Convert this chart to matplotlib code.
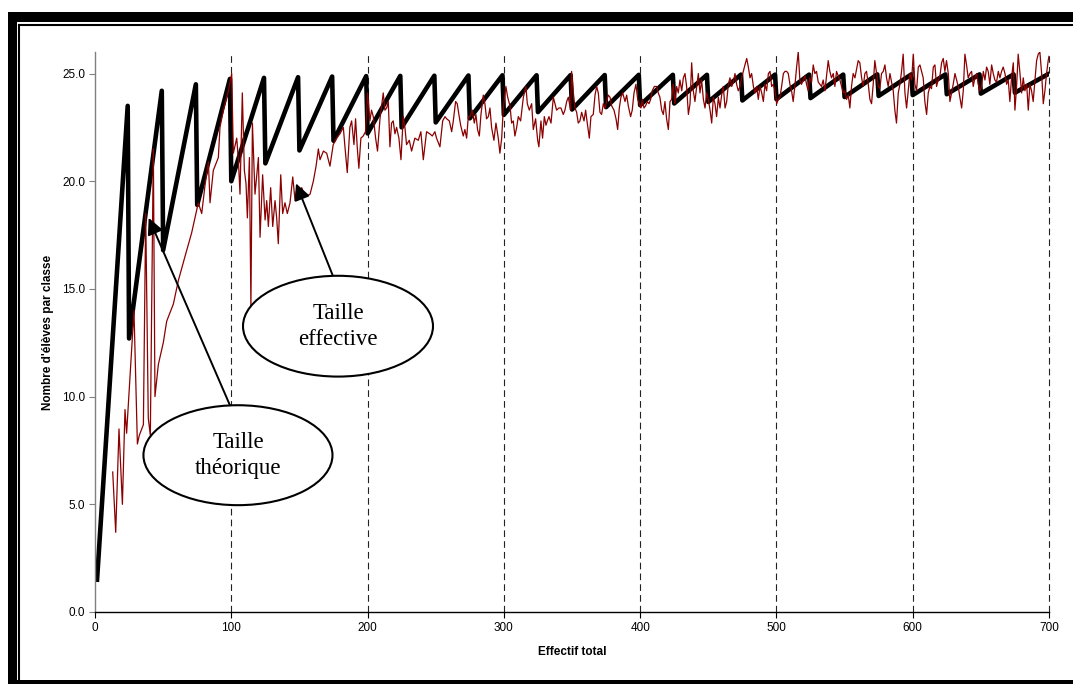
import matplotlib
matplotlib.use("Agg")
from matplotlib import pyplot as plt
from matplotlib.patches import Ellipse, Rectangle
from matplotlib.lines import Line2D

plt.rcParams['font.family'] = ['Liberation Sans', 'DejaVu Sans']

# ---- taille theorique : sommets de la courbe en dents de scie ----
start_x, start_y = 1.5, 1.5
peak_x = [24, 49, 74, 99, 124, 149, 174, 199, 224, 249, 274, 299, 324, 349,
          374, 399, 424, 449, 474, 499, 524, 549, 574, 599, 624, 649, 674, 699]
peak_y = [23.5, 24.2, 24.5, 24.75, 24.8, 24.83, 24.86, 24.88, 24.89, 24.9, 24.91, 24.92, 24.92, 24.93,
          24.93, 24.94, 24.94, 24.94, 24.95, 24.95, 24.95, 24.95, 24.96, 24.96, 24.96, 24.96, 24.96, 24.96]
trough_x = [25, 50, 75, 100, 125, 150, 175, 200, 225, 250, 275, 300, 325, 350,
            375, 400, 425, 450, 475, 500, 525, 550, 575, 600, 625, 650, 675]
trough_y = [12.7, 16.8, 18.9, 20.0, 20.83, 21.43, 21.88, 22.22, 22.5, 22.73, 22.92, 23.08, 23.21, 23.33,
            23.44, 23.53, 23.61, 23.68, 23.75, 23.81, 23.86, 23.91, 23.96, 24.0, 24.04, 24.07, 24.11]

# ---- taille effective ----
eff_x = [13.0, 15.2, 17.6, 20.1, 22.0, 23.2, 28.6, 31.1, 32.5, 35.5,
         37.2, 39.1, 40.6, 42.8, 44.0, 46.5, 50.1, 52.6, 57.5, 61.2,
         66.0, 70.9, 75.8, 78.3, 80.7, 83.2, 84.4,
         86.8, 90.5, 91.7, 94.2, 97.9, 100.3, 101.5, 104.0, 105.2, 106.4,
         108.1, 109.6, 110.8, 111.8, 113.3, 114.4, 115.5, 117.4, 119.9, 121.1,
         123.0, 124.8, 126.0, 127.2, 128.9, 130.4, 132.1, 133.3, 134.5, 136.3,
         137.7, 139.4, 141.1, 143.1, 145.1, 146.8, 148.0, 149.9, 151.7, 153.4,
         155.3, 157.8, 160.2, 162.2, 163.9, 165.1, 167.6, 170.0,
         172.4, 174.8, 177.3, 179.7, 182.2, 183.4, 185.1, 187.0, 188.3, 190.0,
         191.2, 192.4, 193.6, 195.1, 196.8, 198.5, 200.0, 201.7, 202.9, 204.2,
         205.9, 207.3, 209.1, 211.5, 212.7, 214.0, 215.2, 216.4, 217.6, 218.8,
         220.1, 221.3, 223.0, 224.5, 226.2, 227.4, 228.6, 230.6, 232.3, 234.7,
         237.2, 239.1, 240.9, 243.3, 245.7, 247.5, 249.4, 250.6,
         253.1, 255.1, 256.8, 258.0, 260.0, 261.7, 262.9, 264.6, 265.8, 267.0,
         268.3, 270.2, 271.4, 272.7, 273.9, 275.1, 276.8, 278.3, 279.5, 280.7,
         282.0, 283.2, 284.9, 286.1, 287.3, 288.6, 289.8, 291.0, 292.7, 294.2,
         295.9, 297.1, 298.4, 299.6, 301.5, 302.8, 304.5, 305.7, 306.9, 308.1,
         309.4, 310.6, 312.3, 314.3, 316.2, 317.2, 318.7, 320.4, 321.6, 323.3,
         324.8, 325.7, 327.2, 328.4, 329.7, 330.9, 331.9, 333.1, 334.6, 336.3,
         337.5, 338.7, 340.4,
         341.9, 343.6, 344.8, 346.1, 347.3, 349.0, 349.7, 351.0, 352.2, 353.4,
         354.6, 355.8, 357.1, 358.8, 360.0, 361.2, 362.7, 363.9, 365.6, 366.9,
         368.1, 369.3, 370.5, 371.7, 373.0, 374.2, 375.4, 376.6, 377.9, 379.1,
         380.8, 382.3, 383.5, 384.7, 385.9, 387.2, 388.9, 390.1, 391.3, 393.0,
         394.2, 395.5, 396.9, 398.2, 399.4, 400.6, 401.6, 402.8, 404.0, 405.3,
         406.5, 407.7, 408.9, 410.4, 412.1, 413.3, 414.5, 415.8, 417.0, 418.2,
         419.4, 420.7, 421.9,
         423.1, 424.3, 425.6, 426.8, 428.0, 429.2, 430.5, 431.7, 432.9, 434.1,
         435.4, 436.6, 437.8, 439.0, 440.2, 441.5, 442.7, 443.9, 445.1, 446.4,
         447.6, 448.8, 450.0, 451.3, 452.5, 453.7, 454.9, 456.1, 457.4, 458.6,
         459.8, 461.0, 462.3, 463.5, 464.7, 465.9, 467.2, 468.4, 469.6, 470.8,
         472.0, 473.3, 474.5, 475.7, 476.9, 478.2, 479.4, 480.6, 481.8, 483.1,
         484.3, 485.5, 486.7, 487.9, 489.2, 490.4, 491.6, 492.8, 494.1, 495.3,
         496.5, 497.7, 499.0, 500.2, 501.4, 502.6, 503.8, 505.1, 506.3, 507.5,
         508.7,
         509.9, 511.1, 512.3, 513.5, 514.8, 516.0, 517.2, 518.4, 519.7, 520.9,
         522.1, 523.3, 524.5, 525.8, 527.0, 528.2, 529.4, 530.7, 531.9, 533.1,
         534.3, 535.6, 536.8, 538.0, 539.2, 540.4, 541.7, 542.9, 544.1, 545.3,
         546.6, 547.8, 549.0, 550.2, 551.5, 552.7, 553.9, 555.1, 556.3, 557.6,
         558.8, 560.0, 561.2, 562.5, 563.7, 564.9, 566.1, 567.4, 568.6, 569.8,
         571.0, 572.2, 573.5, 574.7, 575.9, 577.1, 578.4, 579.6, 580.8, 582.0,
         583.3, 584.5, 585.7, 586.9, 588.1, 589.4, 590.6, 591.8, 593.0,
         594.3, 595.5, 596.7, 597.9, 599.2, 600.4, 601.6, 602.8, 604.1, 605.3,
         606.5, 607.7, 608.9, 610.2, 611.4, 612.6, 613.8, 615.1, 616.3, 617.5,
         618.7, 620.0, 621.2, 622.4, 623.6, 624.8, 626.1, 627.3, 628.5, 629.7,
         631.0, 632.2, 633.4, 634.6, 635.9, 637.1, 638.3, 639.5, 640.7, 642.0,
         643.2, 644.4, 645.6, 646.9, 648.1, 649.3, 650.5, 651.8, 653.0, 654.2,
         655.4, 656.6, 657.9, 659.1, 660.3, 661.5, 662.8, 664.0, 665.2, 666.4,
         667.7, 668.9, 670.1, 671.3, 672.5, 673.8, 675.0, 676.2, 677.4, 678.7,
         679.9, 681.1, 682.3, 683.6, 684.8, 686.0, 687.2, 688.4, 689.7, 690.9,
         692.1, 693.3, 694.6, 695.8, 697.0, 698.2, 699.4, 700.0]
eff_y = [6.5, 3.7, 8.5, 5.0, 9.4, 8.3, 14.0, 7.8, 8.2, 8.7,
         18.5, 9.0, 8.2, 21.5, 10.0, 11.5, 12.5, 13.5, 14.3, 15.4,
         16.5, 17.6, 19.0, 18.5, 19.8, 20.9, 19.0,
         20.5, 21.1, 22.5, 23.3, 24.2, 25.0, 21.3, 22.0, 21.0, 19.4,
         24.1, 20.5, 19.9, 18.3, 21.1, 14.2, 22.7, 19.4, 21.1, 17.4,
         20.3, 18.2, 19.1, 17.9, 19.7, 17.9, 19.1, 18.3, 17.1, 20.3,
         18.5, 19.0, 18.5, 19.0, 20.2, 19.1, 19.6, 19.3, 19.7, 19.4,
         19.3, 19.4, 20.0, 20.7, 21.5, 21.0, 21.4, 21.3,
         20.7, 21.7, 22.0, 22.2, 22.5, 21.6, 20.4, 22.5, 22.8, 21.7,
         22.9, 21.6, 20.6, 22.0, 22.1, 22.3, 24.1, 22.8, 23.3, 23.0,
         22.0, 21.4, 22.9, 24.1, 23.3, 23.4, 23.7, 21.6, 22.7, 22.8,
         22.2, 22.5, 22.0, 21.0, 23.0, 22.5, 21.7, 21.9, 21.4, 22.0,
         21.9, 22.3, 21.0, 22.3, 22.2, 22.1, 22.3, 22.0,
         21.6, 22.8, 23.0, 22.9, 22.8, 22.3, 22.8, 23.7, 23.6, 23.1,
         22.6, 22.1, 22.4, 22.0, 23.0, 23.0, 23.3, 22.7, 23.1, 22.4,
         22.1, 23.1, 24.0, 23.6, 22.9, 23.0, 23.4, 22.5, 21.9, 22.7,
         22.0, 21.3, 22.0, 23.4, 24.4, 23.9, 23.5, 22.7, 22.8, 22.1,
         22.5, 23.0, 22.8, 23.9, 24.4, 23.6, 23.3, 23.6, 22.4, 22.9,
         21.9, 21.6, 22.8, 22.0, 23.0, 22.6, 22.8, 23.0, 22.7, 23.9,
         23.6, 23.3, 23.4,
         23.4, 23.1, 23.3, 23.7, 23.9, 23.3, 25.1, 24.1, 23.4, 23.2,
         22.7, 22.8, 23.2, 22.8, 23.3, 22.7, 22.0, 23.0, 23.1, 24.0,
         24.4, 24.1, 23.2, 23.1, 23.6, 23.4, 23.7, 24.0, 23.9, 23.5,
         23.3, 22.9, 22.4, 23.4, 23.9, 24.1, 23.7, 24.0, 23.5, 23.0,
         23.3, 24.1, 24.5, 23.8, 23.6, 23.4, 23.8, 23.4, 23.5, 23.7,
         23.6, 23.8, 24.2, 24.4, 24.4, 24.1, 23.9, 23.3, 23.1, 23.7,
         22.9, 22.4, 23.7,
         23.8, 24.5, 23.6, 24.4, 24.1, 24.7, 24.2, 24.8, 25.0, 24.4,
         23.1, 23.6, 25.5, 24.2, 23.7, 24.4, 25.0, 24.1, 24.7, 23.8,
         23.4, 24.1, 23.8, 23.3, 22.7, 23.9, 23.6, 23.0, 23.9, 23.4,
         24.0, 24.4, 23.4, 23.7, 24.5, 24.8, 24.4, 24.6, 25.0, 24.5,
         24.2, 24.4, 24.8, 25.1, 25.4, 25.7, 25.3, 24.8, 25.0, 24.4,
         24.1, 24.4, 23.8, 24.4, 24.1, 23.7, 24.5, 24.2, 25.0, 25.1,
         24.4, 24.5, 24.2, 23.6, 23.8, 23.9, 24.4, 25.0, 25.1, 25.1,
         25.0,
         24.5, 24.2, 23.7, 24.4, 25.3, 26.0, 24.7, 24.5, 24.7, 24.9,
         24.5, 24.2, 24.8, 24.6, 25.4, 25.0, 25.1, 24.6, 24.5, 24.4,
         24.7, 24.2, 24.9, 25.6, 25.1, 24.8, 25.0, 24.4, 25.1, 24.9,
         24.7, 24.4, 24.1, 24.2, 23.8, 24.0, 23.4, 24.4, 25.0, 24.8,
         25.2, 25.6, 25.5, 24.8, 24.4, 25.0, 25.1, 24.5, 23.8, 23.6,
         24.5, 25.6, 25.0, 24.4, 24.3, 25.0, 25.1, 25.4, 24.8, 24.4,
         25.0, 24.6, 24.2, 23.3, 22.7, 24.1, 24.5, 25.1, 25.9,
         24.1, 23.4, 24.2, 25.0, 24.7, 25.9, 24.5, 24.2, 25.3, 25.4,
         25.1, 24.8, 23.7, 23.1, 24.1, 24.4, 24.3, 25.3, 25.4, 24.4,
         24.7, 24.9, 25.5, 25.7, 25.1, 25.6, 25.0, 23.7, 24.1, 24.5,
         25.0, 24.7, 24.4, 23.9, 23.4, 24.2, 25.9, 25.4, 24.8, 25.0,
         25.1, 24.4, 24.8, 25.0, 24.5, 24.2, 24.4, 25.1, 24.7, 25.3,
         25.1, 24.5, 25.4, 25.0, 24.7, 24.6, 25.1, 24.8, 25.1, 25.3,
         25.0, 24.5, 24.7, 23.7, 24.8, 25.5, 23.3, 24.4, 25.9, 25.0,
         24.1, 24.8, 24.2, 24.5, 23.3, 24.5, 24.2, 23.7, 24.7, 25.6,
         25.9, 26.0, 25.0, 23.6, 24.2, 25.0, 25.6, 25.8]

x_ticks = [0, 100, 200, 300, 400, 500, 600, 700]
y_ticks = [0, 5, 10, 15, 20, 25]

# build the sawtooth vertex sequence
theo_x = [start_x]
theo_y = [start_y]
for i in range(len(peak_x)):
    theo_x.append(peak_x[i])
    theo_y.append(peak_y[i])
    if i < len(trough_x):
        theo_x.append(trough_x[i])
        theo_y.append(trough_y[i])

W, H = 1073, 684
fig = plt.figure(figsize=(W / 100, H / 100), dpi=100)
ax = fig.add_axes([95 / W, 1 - 612 / H, (1049 - 95) / W, (612 - 52) / H])

# dashed vertical grid
for xv in x_ticks[1:]:
    ax.axvline(xv, color='#222222', lw=0.8, ls=(0, (6, 3.7)), zorder=1, clip_on=False)

ax.plot(theo_x, theo_y, color='black', lw=3.3, zorder=2, solid_joinstyle='round')
ax.plot(eff_x, eff_y, color='#8B0000', lw=0.9, zorder=3)

ax.set_xlim(0, 700)
ax.set_ylim(0, 26)
ax.set_xticks(x_ticks)
ax.set_yticks(y_ticks)
ax.set_yticklabels([f"{v:.1f}" for v in y_ticks])
ax.tick_params(direction='out', length=4, width=0.8, labelsize=8.5, pad=3)
ax.tick_params(axis='y', colors='#808080', labelcolor='black')

for s in ['top', 'right']:
    ax.spines[s].set_visible(False)
ax.spines['left'].set_color('#808080')
ax.spines['bottom'].set_color('black')
ax.spines['left'].set_linewidth(1.0)
ax.spines['bottom'].set_linewidth(1.0)

ax.set_xlabel('Effectif total', fontsize=8.5, fontweight='bold')
ax.set_ylabel("Nombre d'élèves par classe", fontsize=8.5, fontweight='bold')
ax.xaxis.set_label_coords(0.5, -0.0714)
ax.xaxis.label.set_va('center')
ax.yaxis.set_label_coords(-0.0493, 0.5)
ax.yaxis.label.set_va('center')

# annotations
serif = ['Liberation Serif', 'DejaVu Serif']
ax.annotate('', xy=(39.4, 18.3), xytext=(99.0, 9.6),
            arrowprops=dict(arrowstyle='-|>,head_length=0.45,head_width=0.22',
                            color='black', lw=1.4, mutation_scale=22,
                            shrinkA=0, shrinkB=0), zorder=4)
ax.annotate('', xy=(147.5, 19.9), xytext=(174.6, 15.6),
            arrowprops=dict(arrowstyle='-|>,head_length=0.45,head_width=0.22',
                            color='black', lw=1.4, mutation_scale=22,
                            shrinkA=0, shrinkB=0), zorder=4)

ax.add_patch(Ellipse((104.9, 7.28), 138.7, 4.64, facecolor='white',
                     edgecolor='black', lw=1.5, zorder=5))
ax.text(104.9, 7.28, 'Taille\nthéorique', ha='center', va='center',
        fontsize=16.5, family=serif, linespacing=1.3, zorder=6)
ax.add_patch(Ellipse((178.3, 13.27), 139.4, 4.68, facecolor='white',
                     edgecolor='black', lw=1.5, zorder=5))
ax.text(178.3, 13.27, 'Taille\neffective', ha='center', va='center',
        fontsize=16.5, family=serif, linespacing=1.3, zorder=6)

# outer frame (thick shadow + thin inner line)
def px_rect(x0, y0, x1, y1):
    return Rectangle((x0 / W, 1 - y1 / H), (x1 - x0) / W, (y1 - y0) / H,
                     transform=fig.transFigure, facecolor='black',
                     edgecolor='none', zorder=10)

fig.add_artist(px_rect(8, 12, 17, 684))
fig.add_artist(px_rect(8, 12, 1073, 22))
fig.add_artist(px_rect(8, 680, 1073, 684))
fig.add_artist(Line2D([19.3 / W, 19.3 / W], [1 - 24.5 / H, 1 - 680 / H],
                      transform=fig.transFigure, color='black', lw=1.5))
fig.add_artist(Line2D([19.3 / W, 1], [1 - 24.5 / H, 1 - 24.5 / H],
                      transform=fig.transFigure, color='black', lw=1.5))

fig.savefig('out.png', dpi=100)
